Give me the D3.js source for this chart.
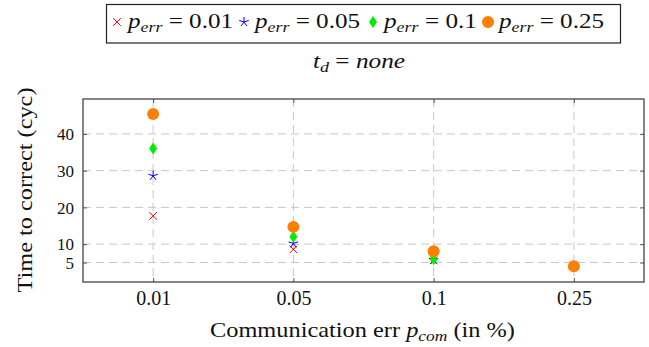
<!DOCTYPE html>
<html lang="en">
<head>
<meta charset="UTF-8">
<title>Time to correct</title>
<script src="https://d3js.org/d3.v7.min.js"></script>
<style>
  body { margin: 0; background: #fff; }
</style>
</head>
<body>
<div id="chart"></div>
<script>
// data
const categories = ["0.01", "0.05", "0.1", "0.25"];
const seriesNames = ["0.01", "0.05", "0.1", "0.25"];
const errLow  = [17.7, 8.6, 5.6, 4.0];   // p_err = 0.01
const errMid  = [28.6, 10.2, 5.7, 4.0];  // p_err = 0.05
const errHigh = [36.0, 12.0, 5.9, 4.0];  // p_err = 0.1
const errMax  = [45.4, 14.7, 8.1, 4.0];  // p_err = 0.25
const yTicks = [5, 10, 20, 30, 40];

const W = 649, H = 347;
const margin = { left: 83, right: 5, top: 99, bottom: 65 };
const FONT = "Liberation Serif, DejaVu Serif, serif";

const svg = d3.select("#chart").append("svg")
  .attr("width", W).attr("height", H)
  .style("font-family", FONT);

const x = d3.scalePoint().domain(categories)
  .range([margin.left, W - margin.right]).padding(0.5);
const y = d3.scaleLinear().domain([-0.3, 49.5])
  .range([H - margin.bottom, margin.top]);

const series = [
  { name: seriesNames[0], values: errLow,  color: "#ff0000", shape: "cross" },
  { name: seriesNames[1], values: errMid,  color: "#0000ff", shape: "star" },
  { name: seriesNames[2], values: errHigh, color: "#00ee00", shape: "diamond" },
  { name: seriesNames[3], values: errMax,  color: "#ff8000", shape: "circle" }
];

// grid
const grid = svg.append("g");
grid.selectAll(".gy").data(yTicks).enter().append("line")
  .attr("x1", margin.left).attr("x2", W - margin.right)
  .attr("y1", d => y(d)).attr("y2", d => y(d))
  .attr("stroke", "#c8c8c8").attr("stroke-dasharray", "8,5");
grid.selectAll(".gx").data(categories).enter().append("line")
  .attr("x1", d => x(d)).attr("x2", d => x(d))
  .attr("y1", margin.top).attr("y2", H - margin.bottom)
  .attr("stroke", "#c8c8c8").attr("stroke-dasharray", "8,5");

// axes with inner ticks on all four sides
const yl = svg.append("g").attr("transform", `translate(${margin.left},0)`)
  .call(d3.axisLeft(y).tickValues(yTicks).tickSize(-4).tickPadding(9));
const yr = svg.append("g").attr("transform", `translate(${W - margin.right},0)`)
  .call(d3.axisRight(y).tickValues(yTicks).tickSize(-4).tickFormat(""));
const xb = svg.append("g").attr("transform", `translate(0,${H - margin.bottom})`)
  .call(d3.axisBottom(x).tickSize(-4).tickPadding(9));
const xt = svg.append("g").attr("transform", `translate(0,${margin.top})`)
  .call(d3.axisTop(x).tickSize(-4).tickFormat(""));
[yl, yr, xb, xt].forEach(g => {
  g.attr("font-family", FONT);
  g.select(".domain").remove();
  g.selectAll(".tick line").attr("stroke", "#555");
  g.selectAll("text").attr("font-size", 20).attr("fill", "#111");
});
// keep the close 5 / 10 labels apart
yl.selectAll("text").attr("font-size", 17).attr("dy", "0.34em");

svg.append("rect")
  .attr("x", margin.left).attr("y", margin.top)
  .attr("width", W - margin.right - margin.left)
  .attr("height", H - margin.bottom - margin.top)
  .attr("fill", "none").attr("stroke", "#444").attr("stroke-width", 1.3);

// markers
function marker(g, shape, color) {
  if (shape === "cross") {
    g.append("path").attr("d", "M-3.8,-3.8L3.8,3.8M-3.8,3.8L3.8,-3.8")
      .attr("stroke", color).attr("stroke-width", 1).attr("fill", "none");
  } else if (shape === "star") {
    let d = "";
    for (let i = 0; i < 5; i++) {
      const a = -Math.PI / 2 + i * 2 * Math.PI / 5;
      d += `M0,0L${(5 * Math.cos(a)).toFixed(2)},${(5 * Math.sin(a)).toFixed(2)}`;
    }
    g.append("path").attr("d", d)
      .attr("stroke", color).attr("stroke-width", 1).attr("fill", "none");
  } else if (shape === "diamond") {
    g.append("path").attr("d", "M0,-6L4,0L0,6L-4,0Z").attr("fill", color);
  } else {
    g.append("circle").attr("r", 6).attr("fill", color);
  }
}

series.forEach(s => {
  const g = svg.append("g");
  s.values.forEach((v, i) => {
    marker(g.append("g").attr("transform", `translate(${x(categories[i])},${y(v)})`),
      s.shape, s.color);
  });
});

// axis titles
const xl = svg.append("text").attr("x", 210).attr("y", 337)
  .attr("font-size", 21).attr("fill", "#111")
  .attr("textLength", 305).attr("lengthAdjust", "spacingAndGlyphs");
xl.append("tspan").text("Communication err ");
xl.append("tspan").attr("font-style", "italic").text("p");
xl.append("tspan").attr("font-style", "italic").attr("font-size", 15)
  .attr("dy", 4).text("com");
xl.append("tspan").attr("dy", -4).text(" (in %)");

svg.append("text")
  .attr("transform", "translate(32,190) rotate(-90)")
  .attr("text-anchor", "middle").attr("font-size", 21).attr("fill", "#111")
  .attr("textLength", 205).attr("lengthAdjust", "spacingAndGlyphs")
  .text("Time to correct (cyc)");

// title t_d = none
const tt = svg.append("text").attr("x", 313).attr("y", 68)
  .attr("font-size", 21).attr("fill", "#111")
  .attr("textLength", 92).attr("lengthAdjust", "spacingAndGlyphs");
tt.append("tspan").attr("font-style", "italic").text("t");
tt.append("tspan").attr("font-style", "italic").attr("font-size", 15)
  .attr("dy", 4).text("d");
tt.append("tspan").attr("dy", -4).text(" = ");
tt.append("tspan").attr("font-style", "italic").text("none");

// legend
const legendX = [117, 244, 373, 488];
const leg = svg.append("g");
leg.append("rect").attr("x", 106.5).attr("y", 4.5).attr("width", 514).attr("height", 38.5)
  .attr("fill", "#fff").attr("stroke", "#222").attr("stroke-width", 1.2);
series.forEach((s, i) => {
  const mx = legendX[i];
  marker(leg.append("g").attr("transform", `translate(${mx},22)`), s.shape, s.color);
  const t = leg.append("text").attr("x", mx + 11).attr("y", 28)
    .attr("font-size", 21).attr("fill", "#111")
    .attr("textLength", s.name.length > 3 ? 105 : 93)
    .attr("lengthAdjust", "spacingAndGlyphs");
  t.append("tspan").attr("font-style", "italic").text("p");
  t.append("tspan").attr("font-style", "italic").attr("font-size", 15)
    .attr("dy", 4).text("err");
  t.append("tspan").attr("dy", -4).text(" = " + s.name);
});
</script>
</body>
</html>
